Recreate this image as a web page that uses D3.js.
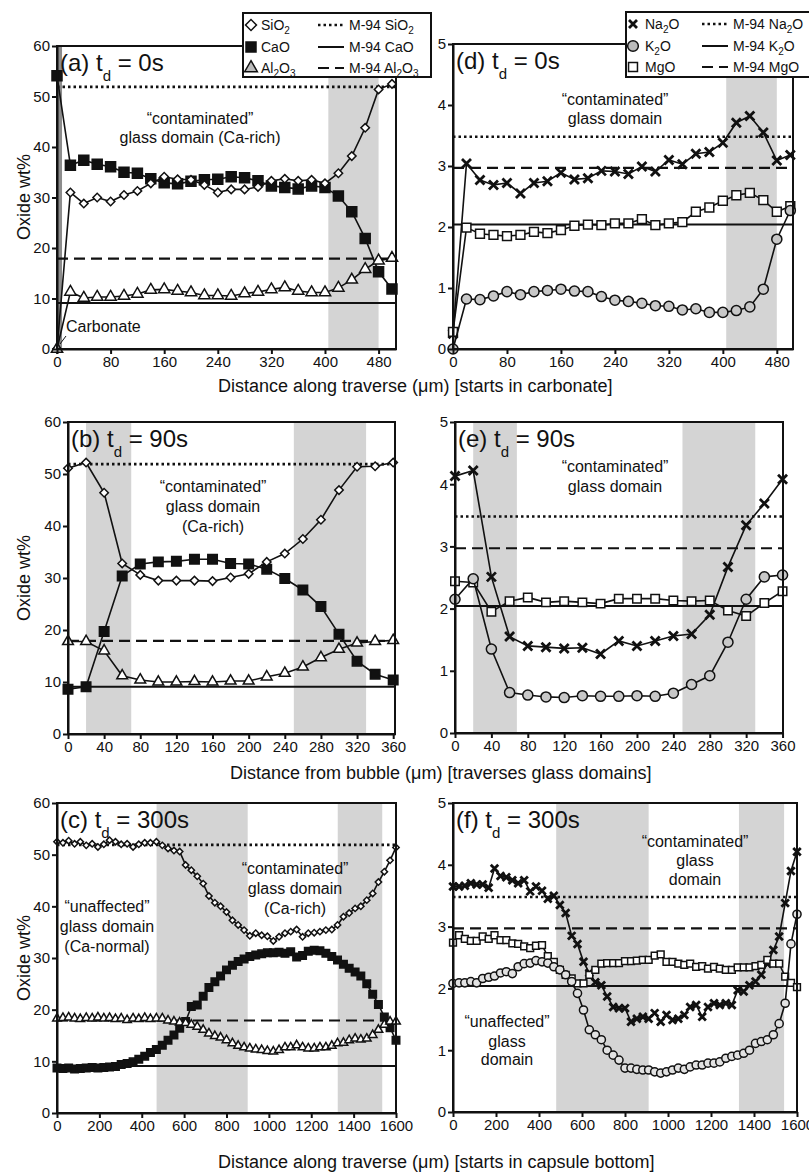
<!DOCTYPE html>
<html>
<meta charset="utf-8" />
<script src="https://cdn.jsdelivr.net/npm/d3@7"></script>
<style>
  body { margin: 0; background: #fff; }
  svg { display: block; font-family: 'Liberation Sans', Arial, sans-serif; white-space: pre; }
  .axis path, .axis line { stroke: #111; stroke-width: 2px; }
  .axis text { font-size: 15px; fill: #111; }
</style>
<body>
<div id="chart"></div>
<script>
// ---- data ----
// panels a / d : traverse starting in carbonate, t_d = 0 s
var xA = [0, 20, 40, 60, 80, 100, 120, 140, 160, 180, 200, 220, 240, 260, 280, 300, 320, 340, 360, 380, 400, 420, 440, 460, 480, 500];
var sio2A = [0, 31, 28.8, 30, 29.2, 30.5, 31.3, 32.8, 34.1, 33.6, 33.5, 32.5, 31.0, 31.6, 31.6, 32.1, 33.3, 33.7, 33.3, 33.5, 32.8, 34.8, 38.2, 43.8, 51.4, 52.5];
var caoA = [54.1, 36.4, 37.4, 36.6, 36.1, 35.0, 34.8, 33.7, 32.9, 32.7, 33.2, 33.5, 33.6, 34.1, 33.9, 33.3, 32.3, 32.0, 31.7, 32.3, 32.0, 30.3, 27.2, 21.9, 15.3, 11.9];
var al2o3A = [0, 11.3, 10.1, 10.3, 10.3, 10.5, 10.9, 11.7, 11.8, 11.5, 11.2, 10.6, 10.6, 10.5, 11.0, 11.3, 11.8, 12.2, 11.5, 11.2, 11.2, 12.1, 13.7, 15.8, 17.5, 18.0];
var na2oD = [0.25, 3.04, 2.77, 2.69, 2.72, 2.55, 2.72, 2.75, 2.89, 2.78, 2.80, 2.92, 2.91, 2.87, 2.99, 2.91, 3.10, 3.03, 3.20, 3.23, 3.38, 3.71, 3.82, 3.55, 3.09, 3.18];
var k2oD = [0.0, 0.82, 0.81, 0.87, 0.94, 0.89, 0.94, 0.96, 0.98, 0.95, 0.94, 0.86, 0.80, 0.78, 0.75, 0.71, 0.70, 0.64, 0.66, 0.60, 0.60, 0.63, 0.69, 0.98, 1.80, 2.27];
var mgoD = [0.28, 1.99, 1.89, 1.87, 1.85, 1.87, 1.92, 1.90, 1.95, 2.02, 2.04, 2.03, 2.06, 2.06, 2.13, 2.03, 2.06, 2.08, 2.25, 2.32, 2.43, 2.52, 2.56, 2.44, 2.25, 2.34];

// panels b / e : distance from bubble, t_d = 90 s
var xB = [0, 20, 40, 60, 80, 100, 120, 140, 160, 180, 200, 220, 240, 260, 280, 300, 320, 340, 360];
var sio2B = [51.1, 52.2, 46.4, 32.8, 30.6, 29.5, 29.5, 29.5, 29.4, 30.1, 30.8, 33.1, 34.7, 37.5, 41.2, 46.9, 51.4, 51.5, 52.2];
var caoB = [8.6, 9.1, 19.7, 30.4, 32.7, 33.1, 33.2, 33.6, 33.6, 32.8, 32.7, 31.7, 29.9, 27.7, 24.5, 19.2, 14.0, 11.5, 10.4];
var al2o3B = [17.8, 17.8, 16.0, 11.2, 10.4, 10.0, 10.0, 10.1, 10.0, 10.2, 10.2, 11.0, 11.7, 12.9, 14.7, 16.3, 17.5, 17.8, 18.0];
var na2oE = [4.13, 4.22, 2.51, 1.55, 1.40, 1.38, 1.36, 1.37, 1.27, 1.48, 1.40, 1.48, 1.56, 1.59, 1.90, 2.67, 3.34, 3.69, 4.08];
var k2oE = [2.15, 2.48, 1.35, 0.65, 0.61, 0.58, 0.57, 0.60, 0.59, 0.59, 0.60, 0.59, 0.64, 0.78, 0.92, 1.46, 2.15, 2.51, 2.54];
var mgoE = [2.44, 2.42, 1.95, 2.12, 2.18, 2.10, 2.12, 2.10, 2.08, 2.16, 2.16, 2.16, 2.13, 2.12, 2.13, 1.97, 1.88, 2.09, 2.28];

// panels c / f : traverse from capsule bottom, t_d = 300 s
var xC = [0, 28, 55, 83, 110, 138, 166, 193, 221, 248, 276, 303, 331, 359, 386, 414, 441, 469, 497, 524, 552, 579, 607, 634, 662, 690, 717, 745, 772, 800,
  828, 855, 883, 910, 938, 966, 993, 1021, 1048, 1076, 1103, 1131, 1159, 1186, 1214, 1241, 1269, 1297, 1324, 1352, 1379, 1407, 1434, 1462, 1490, 1517, 1545, 1572, 1600];
var sio2C = [52.5, 52.3, 52.7, 52.1, 52.5, 51.8, 52.1, 51.5, 52.0, 52.8, 52.5, 52.0, 52.1, 51.5, 52.0, 52.3, 52.3, 52.5, 51.8, 51.2, 50.8, 50.6,
  48.0, 47.0, 45.8, 44.4, 42.0, 40.7, 40.0, 38.9, 37.3, 36.4, 35.4, 34.3, 34.8, 34.4, 34.2, 33.3, 34.1, 34.8, 35.1, 35.5, 34.1, 34.8, 34.9, 35.1,
  35.4, 35.5, 36.4, 38.0, 38.7, 39.6, 40.0, 41.2, 42.5, 44.7, 46.7, 48.9, 51.4];
var caoC = [8.7, 8.6, 8.7, 8.5, 8.6, 8.7, 8.8, 8.7, 8.8, 8.9, 9.0, 9.4, 9.6, 9.9, 10.4, 11.0, 11.7, 12.3, 13.1, 14.1, 15.1, 16.4, 17.7, 20.6, 20.9,
  22.6, 24.3, 25.4, 26.5, 27.7, 28.6, 29.3, 29.8, 30.3, 30.6, 30.8, 31.0, 31.0, 31.1, 30.9, 31.2, 30.2, 30.5, 31.3, 31.5, 31.4, 30.9,
  30.3, 29.6, 28.8, 28.0, 27.3, 26.5, 25.0, 23.0, 21.0, 18.6, 16.5, 14.1];
var al2o3C = [18.3, 18.4, 18.5, 18.3, 18.2, 18.4, 18.3, 18.5, 18.3, 18.4, 18.2, 18.3, 18.0, 18.3, 18.2, 18.4, 18.2, 18.3,
  18.3, 17.9, 17.7, 17.5, 17.4, 17.1, 16.7, 16.1, 15.4, 14.9, 14.6, 14.1, 13.5, 13.0, 12.7, 12.5, 12.3, 12.2, 12.0, 11.9, 12.2, 12.7,
  12.7, 13.1, 12.7, 12.5, 12.5, 12.7, 12.7, 13.0, 13.5, 13.6, 14.1, 14.4, 14.2, 14.4, 15.1, 16.1, 17.1, 17.7, 17.7];
var na2oF = [3.65, 3.65, 3.66, 3.70, 3.68, 3.68, 3.63, 3.94, 3.82, 3.80, 3.75, 3.70, 3.75, 3.57, 3.65, 3.58, 3.45, 3.50, 3.35, 3.22,
  2.85, 2.72, 2.43, 2.25, 2.10, 2.05, 1.87, 1.70, 1.68, 1.68, 1.46, 1.51, 1.54, 1.51, 1.60, 1.46, 1.57, 1.49, 1.51, 1.57,
  1.70, 1.73, 1.54, 1.70, 1.76, 1.73, 1.76, 1.73, 1.97, 1.95, 2.05, 2.11, 2.22, 2.40, 2.62, 2.84, 3.38, 3.90, 4.21];
var k2oF = [2.08, 2.09, 2.09, 2.11, 2.09, 2.16, 2.18, 2.20, 2.25, 2.27, 2.24, 2.35, 2.40, 2.41, 2.45, 2.43, 2.41, 2.35, 2.30, 2.22,
  2.11, 1.92, 1.65, 1.33, 1.25, 1.17, 1.00, 0.92, 0.84, 0.71, 0.71, 0.69, 0.68, 0.68, 0.65, 0.63, 0.65, 0.68, 0.71, 0.69,
  0.73, 0.76, 0.76, 0.79, 0.79, 0.81, 0.87, 0.90, 0.92, 0.95, 1.00, 1.11, 1.14, 1.17, 1.25, 1.43, 1.76, 2.72, 3.20];
var mgoF = [2.74, 2.86, 2.80, 2.77, 2.77, 2.84, 2.80, 2.86, 2.78, 2.78, 2.73, 2.72, 2.68, 2.65, 2.69, 2.70, 2.52, 2.43, 2.30, 2.22,
  2.16, 2.08, 2.08, 2.22, 2.30, 2.40, 2.41, 2.41, 2.41, 2.44, 2.44, 2.45, 2.46, 2.46, 2.53, 2.55, 2.43, 2.43, 2.40, 2.38,
  2.40, 2.35, 2.36, 2.32, 2.35, 2.32, 2.30, 2.30, 2.34, 2.34, 2.34, 2.36, 2.38, 2.46, 2.40, 2.40, 2.19, 2.09, 2.02];

// M-94 reference glass: [SiO2, CaO, Al2O3] and [Na2O, K2O, MgO]
var m94Major = [51.9, 9.1, 17.9];
var m94Minor = [3.48, 2.04, 2.97];
var refDash = ['2.5,3', null, '11,6'];   // dotted, solid, dashed
var refWidth = [2.6, 2, 2.2];

var majorLabels = ['SiO_2', 'CaO', 'Al_2O_3'];
var minorLabels = ['Na_2O', 'K_2O', 'MgO'];

var xTicksA = [0, 80, 160, 240, 320, 400, 480];
var xTicksB = [0, 40, 80, 120, 160, 200, 240, 280, 320, 360];
var xTicksC = [0, 200, 400, 600, 800, 1000, 1200, 1400, 1600];
var yTicksMajor = [0, 10, 20, 30, 40, 50, 60];
var yTicksMinor = [0, 1, 2, 3, 4, 5];

var panels = [
  { id: 'a', left: 57, right: 396, top: 46, bottom: 349, xMax: 506, yMax: 60, xTicks: xTicksA, yTicks: yTicksMajor,
    title: '(a) t_d = 0s', bands: [[405, 480]], dark: [0, 7.5], refs: m94Major,
    series: [
      { x: xA, y: caoA, sym: 'square', size: 100, fill: '#111' },
      { x: xA, y: sio2A, sym: 'diamond', size: 36, fill: '#fff' },
      { x: xA, y: al2o3A, sym: 'triangle', size: 55, fill: '#fff' }],
    notes: [{ x: 200, y: [124, 143], t: ['\u201ccontaminated\u201d', 'glass domain (Ca-rich)'] }] },
  { id: 'd', left: 453, right: 793, top: 44, bottom: 349, xMax: 504, yMax: 5, xTicks: xTicksA, yTicks: yTicksMinor,
    title: '(d) t_d = 0s', bands: [[405, 480]], refs: m94Minor,
    series: [
      { x: xA, y: na2oD, sym: 'x', size: 81, fill: 'none' },
      { x: xA, y: mgoD, sym: 'square', size: 78, fill: '#fff' },
      { x: xA, y: k2oD, sym: 'circle', size: 80, fill: '#c8c8c8' }],
    notes: [{ x: 615, y: [105, 124], t: ['\u201ccontaminated\u201d', 'glass domain'] }] },
  { id: 'b', left: 68, right: 395, top: 422, bottom: 734, xMax: 362, yMax: 60, xTicks: xTicksB, yTicks: yTicksMajor,
    title: '(b) t_d = 90s', bands: [[20, 70], [250, 330]], refs: m94Major,
    series: [
      { x: xB, y: caoB, sym: 'square', size: 90, fill: '#111' },
      { x: xB, y: sio2B, sym: 'diamond', size: 36, fill: '#fff' },
      { x: xB, y: al2o3B, sym: 'triangle', size: 50, fill: '#fff' }],
    notes: [{ x: 213, y: [492, 512, 532], t: ['\u201ccontaminated\u201d', 'glass domain', '(Ca-rich)'] }] },
  { id: 'e', left: 455, right: 783, top: 422, bottom: 733, xMax: 360.5, yMax: 5, xTicks: xTicksB, yTicks: yTicksMinor,
    title: '(e) t_d = 90s', bands: [[20, 68], [250, 330]], refs: m94Minor,
    series: [
      { x: xB, y: na2oE, sym: 'x', size: 81, fill: 'none' },
      { x: xB, y: mgoE, sym: 'square', size: 72, fill: '#fff' },
      { x: xB, y: k2oE, sym: 'circle', size: 80, fill: '#c8c8c8' }],
    notes: [{ x: 615, y: [472, 492], t: ['\u201ccontaminated\u201d', 'glass domain'] }] },
  { id: 'c', left: 57, right: 396, top: 803, bottom: 1113, xMax: 1600, yMax: 60, xTicks: xTicksC, yTicks: yTicksMajor,
    title: '(c) t_d = 300s', bands: [[470, 900], [1325, 1535]], refs: m94Major,
    series: [
      { x: xC, y: caoC, sym: 'square', size: 56, fill: '#111' },
      { x: xC, y: al2o3C, sym: 'triangle', size: 32, fill: '#fff' },
      { x: xC, y: sio2C, sym: 'diamond', size: 20, fill: '#fff' }],
    notes: [
      { x: 107, y: [912, 932, 952], t: ['\u201cunaffected\u201d', 'glass domain', '(Ca-normal)'] },
      { x: 295, y: [874, 894, 914], t: ['\u201ccontaminated\u201d', 'glass domain', '(Ca-rich)'] }] },
  { id: 'f', left: 453, right: 797, top: 803, bottom: 1112, xMax: 1600, yMax: 5, xTicks: xTicksC, yTicks: yTicksMinor,
    title: '(f) t_d = 300s', bands: [[480, 910], [1330, 1540]], refs: m94Minor,
    series: [
      { x: xC, y: na2oF, sym: 'x', size: 56, fill: 'none' },
      { x: xC, y: mgoF, sym: 'square', size: 46, fill: '#fff' },
      { x: xC, y: k2oF, sym: 'circle', size: 52, fill: '#e2e2e2' }],
    notes: [
      { x: 695, y: [847, 866, 885], t: ['\u201ccontaminated\u201d', 'glass', 'domain'] },
      { x: 507, y: [1027, 1047, 1065], t: ['\u201cunaffected\u201d', 'glass', 'domain'] }] }
];

var svg = d3.select('#chart').append('svg').attr('width', 809).attr('height', 1172);
svg.append('rect').attr('width', 809).attr('height', 1172).attr('fill', '#fff');

// split "SiO_2" style strings into normal + subscript tspans
function richText(sel, str, subSize, shift) {
  var parts = str.split(/_(.)/);
  var down = false;
  parts.forEach(function (p, i) {
    if (i % 2 === 1) {
      sel.append('tspan').attr('font-size', subSize).attr('dy', shift).text(p);
      down = true;
    } else if (p) {
      sel.append('tspan').attr('dy', down ? -shift : 0).text(p);
      down = false;
    }
  });
}

function symbolPath(sym, size) {
  if (sym === 'x') {
    var r = Math.sqrt(size) / 2;
    return 'M' + -r + ',' + -r + 'L' + r + ',' + r + 'M' + -r + ',' + r + 'L' + r + ',' + -r;
  }
  var type = { square: d3.symbolSquare, diamond: d3.symbolSquare, triangle: d3.symbolTriangle, circle: d3.symbolCircle }[sym];
  return d3.symbol().type(type).size(size)();
}

function drawMarker(sel, sym, size, fill) {
  sel.append('path')
    .attr('d', symbolPath(sym, size))
    .attr('transform', sym === 'diamond' ? 'rotate(45)' : null)
    .attr('fill', fill)
    .attr('stroke', '#111')
    .attr('stroke-width', sym === 'x' ? 2.8 : 1.5);
}

function drawPanel(p) {
  var x = d3.scaleLinear().domain([0, p.xMax]).range([p.left, p.right]);
  var y = d3.scaleLinear().domain([0, p.yMax]).range([p.bottom, p.top]);
  var g = svg.append('g').attr('id', 'panel-' + p.id);

  g.selectAll('rect.band').data(p.bands).enter().append('rect')
    .attr('class', 'band')
    .attr('x', function (d) { return x(d[0]); })
    .attr('width', function (d) { return x(d[1]) - x(d[0]); })
    .attr('y', p.top).attr('height', p.bottom - p.top)
    .attr('fill', '#d4d4d4');
  if (p.dark) {
    g.append('rect').attr('x', x(p.dark[0])).attr('width', x(p.dark[1]) - x(p.dark[0]))
      .attr('y', p.top).attr('height', p.bottom - p.top).attr('fill', '#8c8c8c');
  }

  p.refs.forEach(function (v, i) {
    g.append('line')
      .attr('x1', p.left).attr('x2', p.right)
      .attr('y1', y(v)).attr('y2', y(v))
      .attr('stroke', '#111').attr('stroke-width', refWidth[i])
      .attr('stroke-dasharray', refDash[i]);
  });

  var line = d3.line()
    .x(function (d) { return x(d[0]); })
    .y(function (d) { return y(d[1]); });

  p.series.forEach(function (s) {
    var pts = s.x.map(function (v, i) { return [v, s.y[i]]; });
    g.append('path').datum(pts).attr('d', line)
      .attr('fill', 'none').attr('stroke', '#111').attr('stroke-width', 1.6);
    g.selectAll(null).data(pts).enter().append('g')
      .attr('transform', function (d) { return 'translate(' + x(d[0]) + ',' + y(d[1]) + ')'; })
      .each(function () { drawMarker(d3.select(this), s.sym, s.size, s.fill); });
  });

  g.append('rect').attr('x', p.left).attr('y', p.top)
    .attr('width', p.right - p.left).attr('height', p.bottom - p.top)
    .attr('fill', 'none').attr('stroke', '#111').attr('stroke-width', 2);

  var fmt = d3.format('d');
  g.append('g').attr('class', 'axis')
    .attr('transform', 'translate(' + p.left + ',0)')
    .call(d3.axisLeft(y).tickValues(p.yTicks).tickFormat(fmt).tickSize(5).tickSizeOuter(0).tickPadding(2))
    .attr('font-size', null).attr('font-family', null);
  g.append('g').attr('class', 'axis')
    .attr('transform', 'translate(0,' + p.bottom + ')')
    .call(d3.axisBottom(x).tickValues(p.xTicks).tickFormat(fmt).tickSize(5).tickSizeOuter(0).tickPadding(2))
    .attr('font-size', null).attr('font-family', null);

  var title = g.append('text').attr('x', p.left + 3).attr('y', p.top + 25)
    .attr('font-size', 24).attr('fill', '#111');
  richText(title, p.title, 15, 10);

  p.notes.forEach(function (n) {
    n.t.forEach(function (t, i) {
      g.append('text').attr('x', n.x).attr('y', n.y[i])
        .attr('text-anchor', 'middle').attr('font-size', 16).attr('fill', '#111')
        .text(t);
    });
  });
}

panels.forEach(drawPanel);

// "Carbonate" label with leader in panel a
svg.append('line').attr('x1', 66).attr('y1', 336).attr('x2', 60).attr('y2', 344)
  .attr('stroke', '#111').attr('stroke-width', 1);
svg.append('text').attr('x', 66).attr('y', 332).attr('font-size', 16).attr('fill', '#111').text('Carbonate');

// legends
function drawLegend(box, syms, labels) {
  var g = svg.append('g');
  g.append('rect').attr('x', box.x).attr('y', box.y).attr('width', box.w).attr('height', box.h)
    .attr('fill', '#fff').attr('stroke', '#111').attr('stroke-width', 2);
  var rows = [box.y + 12, box.y + 34, box.y + 55];
  syms.forEach(function (s, i) {
    var m = g.append('g').attr('transform', 'translate(' + box.sx + ',' + rows[i] + ')');
    drawMarker(m, s.sym, s.size, s.fill);
    var t = g.append('text').attr('x', box.tx).attr('y', rows[i] + 5).attr('font-size', 14).attr('fill', '#111');
    richText(t, labels[i], 10, 4);
    g.append('line').attr('x1', box.lx).attr('x2', box.lx + 26).attr('y1', rows[i]).attr('y2', rows[i])
      .attr('stroke', '#111').attr('stroke-width', refWidth[i]).attr('stroke-dasharray', refDash[i]);
    var t2 = g.append('text').attr('x', box.lx + 31).attr('y', rows[i] + 5).attr('font-size', 14).attr('fill', '#111');
    richText(t2, 'M-94 ' + labels[i], 10, 4);
  });
}

drawLegend({ x: 243, y: 13, w: 188, h: 64, sx: 251, tx: 261, lx: 318 },
  [{ sym: 'diamond', size: 60, fill: '#fff' }, { sym: 'square', size: 100, fill: '#111' }, { sym: 'triangle', size: 70, fill: '#bbb' }],
  majorLabels);
drawLegend({ x: 626, y: 12, w: 200, h: 65, sx: 633, tx: 645, lx: 702 },
  [{ sym: 'x', size: 64, fill: 'none' }, { sym: 'circle', size: 90, fill: '#bbb' }, { sym: 'square', size: 80, fill: '#fff' }],
  minorLabels);

// axis titles
[197, 578, 958].forEach(function (cy) {
  svg.append('text').attr('transform', 'translate(30,' + cy + ') rotate(-90)')
    .attr('text-anchor', 'middle').attr('font-size', 18).attr('fill', '#111').text('Oxide wt%');
});
var xTitles = [
  { x: 218, y: 392, t: 'Distance along traverse (\u03bcm) [starts in carbonate]' },
  { x: 230, y: 779, t: 'Distance from bubble (\u03bcm) [traverses glass domains]' },
  { x: 218, y: 1168, t: 'Distance along traverse (\u03bcm) [starts in capsule bottom]' }
];
xTitles.forEach(function (d) {
  svg.append('text').attr('x', d.x).attr('y', d.y).attr('font-size', 18).attr('fill', '#111').text(d.t);
});
</script>
</body>
</html>
